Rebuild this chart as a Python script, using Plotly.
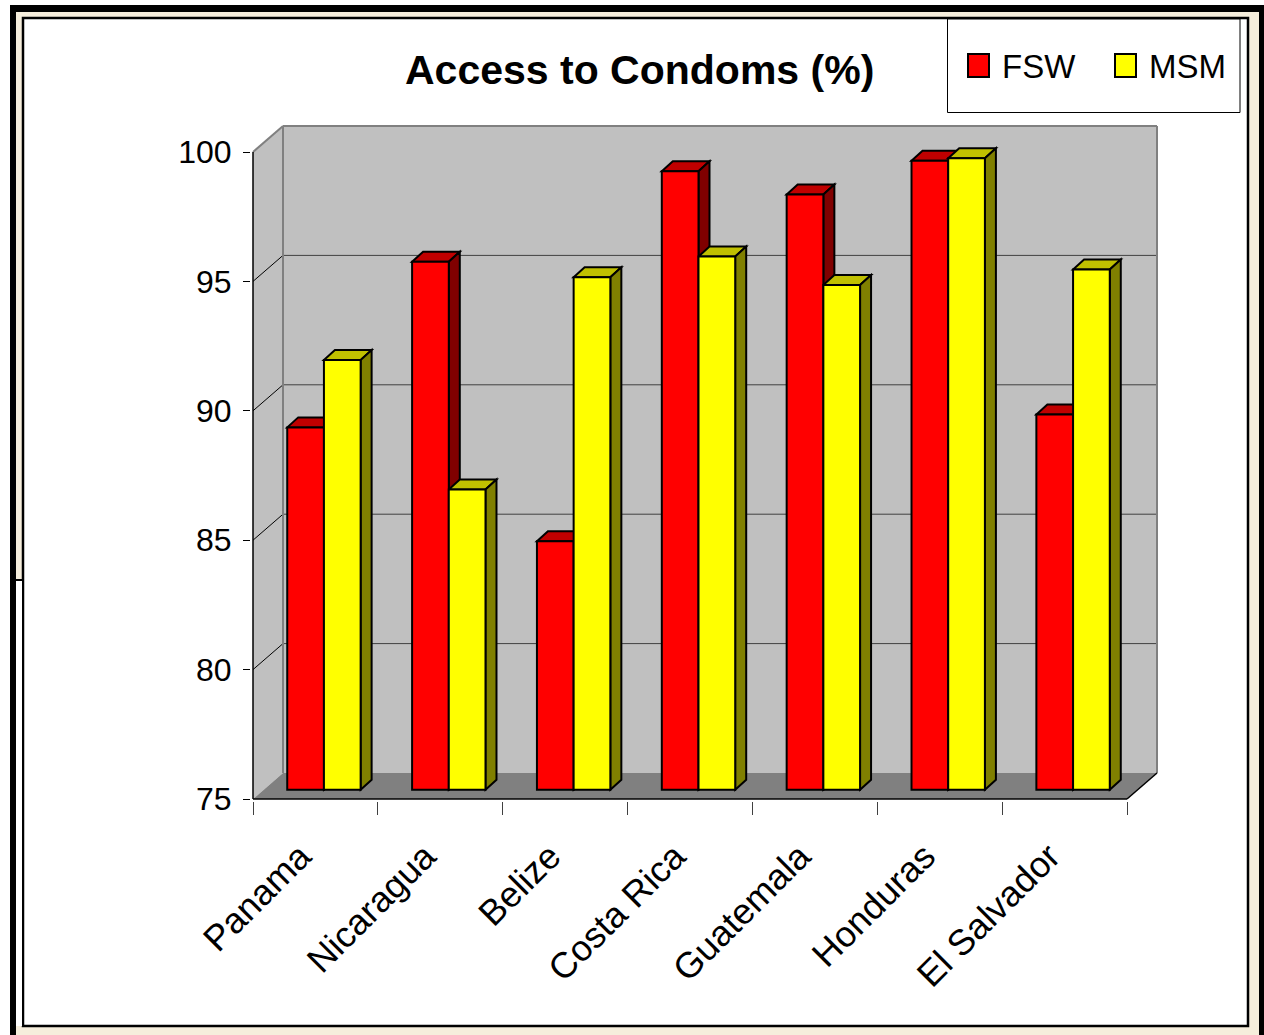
import plotly.graph_objects as go

# ---- data -------------------------------------------------------------
countries = ["Panama", "Nicaragua", "Belize", "Costa Rica", "Guatemala", "Honduras", "El Salvador"]
series_names = ["FSW", "MSM"]
fsw_values = [89.0, 95.4, 84.6, 98.9, 98.0, 99.3, 89.5]
msm_values = [91.6, 86.6, 94.8, 95.6, 94.5, 99.4, 95.1]
y_tick_values = [75, 80, 85, 90, 95, 100]
chart_title = "Access to Condoms (%)"

# ---- styling ----------------------------------------------------------
FONT = "Liberation Sans, Arial, sans-serif"
front_colors = ["#FF0000", "#FFFF00"]
top_colors = ["#C00000", "#C0C000"]
side_colors = ["#800000", "#808000"]
WALL_COLOR = "#C0C0C0"
FLOOR_COLOR = "#808080"

W, H = 1264, 1035

# front plane of the 3-D box, in pixels
X_LEFT, X_RIGHT = 253, 1127          # category edges -0.5 .. n-0.5
Y_BASE, Y_TOP = 799, 152             # value axis bottom .. top
n = len(countries)
y_min, y_max = y_tick_values[0], y_tick_values[-1]
PX = (X_RIGHT - X_LEFT) / n          # pixels per category
PY = (Y_BASE - Y_TOP) / (y_max - y_min)  # pixels per value unit

WALL_DX, WALL_DY = 30, 26            # depth of the walls / floor
BAR_DX, BAR_DY = 8.5, 9.3            # bars sit a little behind the front plane
SIDE_DX, SIDE_DY = 11, 10            # depth of every bar
BAR_W = 36.7                         # width of one bar

# plot area in pixels (whole 3-D box plus a little padding)
L, R, T, B = 251, 1161, 121, 801


def xdata(px):
    return -0.5 + (px - X_LEFT) / PX


def ydata(py):
    return y_min + (Y_BASE - py) / PY


def paper_x(px):
    return (px - L) / (R - L)


def paper_y(py):
    return (B - py) / (B - T)


x_range = [xdata(L), xdata(R)]
y_range = [ydata(B), ydata(T)]

wdx, wdy = WALL_DX / PX, WALL_DY / PY
sdx, sdy = SIDE_DX / PX, SIDE_DY / PY
bw = BAR_W / PX

fig = go.Figure()

# invisible anchors so the front-plane axes are drawn
fig.add_trace(go.Scatter(x=[0], y=[y_min], mode="markers", marker=dict(opacity=0),
                         hoverinfo="skip", showlegend=False))
fig.add_trace(go.Scatter(x=[0], y=[y_min], mode="markers", marker=dict(opacity=0),
                         xaxis="x2", hoverinfo="skip", showlegend=False))

# bar front faces
series = [fsw_values, msm_values]
for k, (name, vals) in enumerate(zip(series_names, series)):
    fig.add_trace(go.Bar(
        x=list(range(n)),
        y=[v - y_min for v in vals],
        base=y_min,
        offset=-bw if k == 0 else 0,
        width=bw,
        name=name,
        customdata=vals,
        hovertext=countries,
        textposition="none",
        hovertemplate="%{hovertext}<br>" + name + ": %{customdata}%<extra></extra>",
        marker=dict(color=front_colors[k], line=dict(color="black", width=2)),
        xaxis="x3", yaxis="y3",
        showlegend=False,
    ))

shapes = []


def poly(points, **kw):
    path = "M " + " L ".join(f"{x},{y}" for x, y in points) + " Z"
    return dict(type="path", path=path, **kw)


# walls and floor
x0, x1 = -0.5, n - 0.5
shapes.append(poly([(x0, y_min), (x0, y_max), (x0 + wdx, y_max + wdy), (x0 + wdx, y_min + wdy)],
                   xref="x", yref="y", fillcolor=WALL_COLOR, line=dict(width=0), layer="below"))
shapes.append(poly([(x0 + wdx, y_min + wdy), (x0 + wdx, y_max + wdy), (x1 + wdx, y_max + wdy), (x1 + wdx, y_min + wdy)],
                   xref="x", yref="y", fillcolor=WALL_COLOR, line=dict(width=0), layer="below"))
shapes.append(poly([(x0, y_min), (x0 + wdx, y_min + wdy), (x1 + wdx, y_min + wdy), (x1, y_min)],
                   xref="x", yref="y", fillcolor=FLOOR_COLOR, line=dict(width=0), layer="below"))

# gridlines on the back and left walls
for v in y_tick_values[1:-1]:
    shapes.append(dict(type="line", xref="x", yref="y", x0=x0 + wdx, x1=x1 + wdx, y0=v + wdy, y1=v + wdy,
                       line=dict(color="#404040", width=1), layer="below"))
    shapes.append(dict(type="line", xref="x", yref="y", x0=x0, x1=x0 + wdx, y0=v, y1=v + wdy,
                       line=dict(color="black", width=1), layer="below"))

# grey wall edges
for (ax, ay, bx, by) in [
    (x0 + wdx, y_min + wdy, x0 + wdx, y_max + wdy),
    (x0 + wdx, y_max + wdy, x1 + wdx, y_max + wdy),
    (x1 + wdx, y_min + wdy, x1 + wdx, y_max + wdy),
    (x0, y_max, x0 + wdx, y_max + wdy),
]:
    shapes.append(dict(type="line", xref="x", yref="y", x0=ax, y0=ay, x1=bx, y1=by,
                       line=dict(color="#808080", width=2), layer="below"))

# front edges of the box
for (ax, ay, bx, by) in [
    (x0, y_min, x0, y_max),
    (x0, y_min, x1, y_min),
    (x1, y_min, x1 + wdx, y_min + wdy),
]:
    shapes.append(dict(type="line", xref="x", yref="y", x0=ax, y0=ay, x1=bx, y1=by,
                       line=dict(color="black", width=1.5), layer="below"))

# bar tops and sides
for k, vals in enumerate(series):
    for i, v in enumerate(vals):
        left = i - bw if k == 0 else i
        right = left + bw
        shapes.append(poly([(left, v), (right, v), (right + sdx, v + sdy), (left + sdx, v + sdy)],
                           xref="x3", yref="y3", fillcolor=top_colors[k],
                           line=dict(color="black", width=2), layer="below"))
        shapes.append(poly([(right, y_min), (right, v), (right + sdx, v + sdy), (right + sdx, y_min + sdy)],
                           xref="x3", yref="y3", fillcolor=side_colors[k],
                           line=dict(color="black", width=2), layer="below"))

# page frame
shapes.append(dict(type="rect", xref="paper", yref="paper",
                   x0=paper_x(12), x1=paper_x(1262), y0=paper_y(1040), y1=paper_y(8),
                   fillcolor="#F6EEDC", line=dict(width=0), layer="below"))
shapes.append(dict(type="rect", xref="paper", yref="paper",
                   x0=paper_x(23), x1=paper_x(1248), y0=paper_y(1026), y1=paper_y(18),
                   fillcolor="white", line=dict(color="black", width=2.5), layer="below"))
shapes.append(dict(type="rect", xref="paper", yref="paper",
                   x0=paper_x(16), x1=paper_x(22), y0=paper_y(1026), y1=paper_y(580),
                   fillcolor="white", line=dict(width=0), layer="below"))
shapes.append(dict(type="line", xref="paper", yref="paper",
                   x0=paper_x(16), x1=paper_x(23), y0=paper_y(580), y1=paper_y(580),
                   line=dict(color="black", width=2), layer="below"))
shapes.append(dict(type="line", xref="paper", yref="paper",
                   x0=paper_x(13), x1=paper_x(13), y0=paper_y(1040), y1=paper_y(5),
                   line=dict(color="black", width=6), layer="below"))
shapes.append(dict(type="line", xref="paper", yref="paper",
                   x0=paper_x(10), x1=paper_x(1264), y0=paper_y(8.5), y1=paper_y(8.5),
                   line=dict(color="black", width=7), layer="below"))
shapes.append(dict(type="line", xref="paper", yref="paper",
                   x0=paper_x(1261.5), x1=paper_x(1261.5), y0=paper_y(1040), y1=paper_y(5),
                   line=dict(color="black", width=5), layer="below"))

# legend box and swatches
shapes.append(dict(type="rect", xref="paper", yref="paper",
                   x0=paper_x(947.5), x1=paper_x(1240), y0=paper_y(112.5), y1=paper_y(19),
                   fillcolor="white", line=dict(color="black", width=1), layer="below"))
legend_square_x = [968, 1115]
legend_text_x = [1000, 1147]
annotations = []
for k, name in enumerate(series_names):
    shapes.append(dict(type="rect", xref="paper", yref="paper",
                       x0=paper_x(legend_square_x[k]), x1=paper_x(legend_square_x[k] + 21),
                       y0=paper_y(77), y1=paper_y(54),
                       fillcolor=front_colors[k], line=dict(color="black", width=2)))
    annotations.append(dict(xref="paper", yref="paper", x=paper_x(legend_text_x[k]), y=paper_y(66),
                            xanchor="left", yanchor="middle", showarrow=False, text=name,
                            font=dict(family=FONT, size=33, color="black")))

annotations.append(dict(xref="paper", yref="paper", x=paper_x(639), y=paper_y(70),
                        xanchor="center", yanchor="middle", showarrow=False,
                        text="<b>" + chart_title + "</b>",
                        font=dict(family=FONT, size=41, color="black")))

fig.update_layout(
    width=W, height=H,
    margin=dict(l=L, r=W - R, t=T, b=H - B, pad=0),
    paper_bgcolor="white",
    plot_bgcolor="rgba(0,0,0,0)",
    barmode="overlay",
    showlegend=False,
    shapes=shapes,
    annotations=annotations,
    font=dict(family=FONT, color="black"),
    xaxis=dict(range=x_range, domain=[0, 1], anchor="y",
               tickmode="array", tickvals=list(range(n)), ticktext=countries,
               tickangle=-45, ticks="", showgrid=False, zeroline=False, showline=False,
               ticklabelstandoff=26, ticklabelshift=-15,
               tickfont=dict(family=FONT, size=36, color="black"), fixedrange=True),
    xaxis2=dict(range=x_range, overlaying="x", anchor="y", side="bottom",
                tickmode="array", tickvals=[i - 0.5 for i in range(n + 1)],
                ticks="outside", ticklen=13, tickwidth=1, tickcolor="#404040",
                showticklabels=False, showgrid=False, zeroline=False, showline=False,
                fixedrange=True),
    yaxis=dict(range=y_range, domain=[0, 1], anchor="x",
               tickmode="array", tickvals=y_tick_values,
               ticks="outside", ticklen=7, tickwidth=1, tickcolor="black",
               ticklabelstandoff=5,
               showgrid=False, zeroline=False, showline=False,
               tickfont=dict(family=FONT, size=32, color="black"), fixedrange=True),
    xaxis3=dict(range=[x_range[0], x_range[1] - BAR_DX / PX], domain=[BAR_DX / (R - L), 1],
                anchor="y3", visible=False, fixedrange=True),
    yaxis3=dict(range=[y_range[0], y_range[1] - BAR_DY / PY], domain=[BAR_DY / (B - T), 1],
                anchor="x3", visible=False, fixedrange=True),
)

fig.write_html("out.html")
